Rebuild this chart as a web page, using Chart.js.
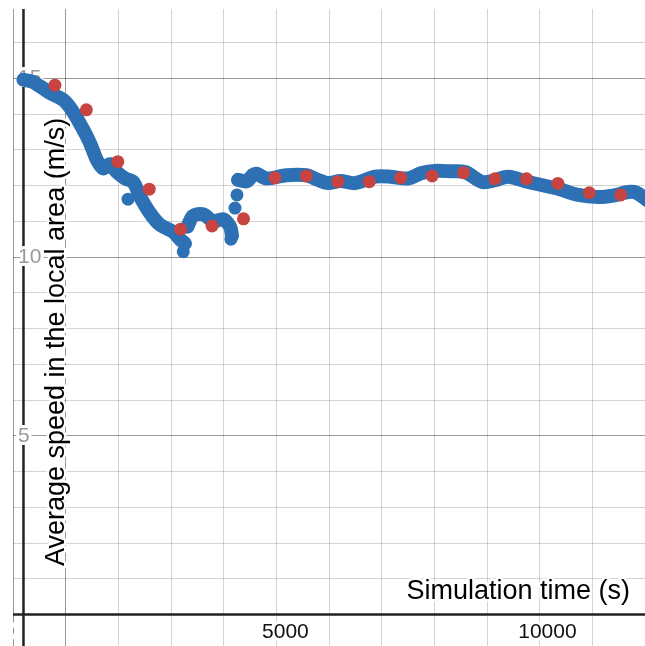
<!DOCTYPE html>
<html>
<head>
<meta charset="utf-8">
<script src="https://cdn.jsdelivr.net/npm/chart.js@4.4.1/dist/chart.umd.min.js"></script>
<style>
  html, body { margin: 0; padding: 0; background: #fff; }
  canvas { display: block; }
</style>
</head>
<body>
<canvas id="chart" width="645" height="646"></canvas>
<script>
// ---- data ----
// main blue trace (null speed = break in the trace)
const blueTime = [0, 181, 506, 755, 920, 1113, 1270, 1400, 1520, 1650, 1780, 1940, 2095, 2225, 2415, 2608, 2856, 2988, 3083,
  3100,
  3130, 3235, 3430, 3620, 3810, 3943, 3980,
  4040,
  4095, 4260, 4380, 4450, 4640, 5020, 5400, 5600, 5813, 6050, 6329, 6711, 7000, 7341, 7600, 7856, 8150, 8429, 8754,
  9000, 9251, 9633, 10206, 10588, 10970, 11250, 11543, 11700, 11900];
const blueSpeed = [14.96, 14.9, 14.59, 14.4, 14.12, 13.64, 13.19, 12.72, 12.48, 12.6, 12.38, 12.2, 12.1, 11.69, 11.23, 10.9, 10.71, 10.5, 10.38,
  null,
  10.85, 11.15, 11.2, 11.0, 11.06, 10.85, 10.6,
  null,
  12.16, 12.12, 12.3, 12.33, 12.2, 12.29, 12.29, 12.17, 12.07, 12.13, 12.07, 12.25, 12.25, 12.2, 12.35, 12.41, 12.4, 12.38, 12.1,
  12.15, 12.25, 12.1, 11.91, 11.74, 11.68, 11.72, 11.82, 11.8, 11.6];
// loose blue dots off the trace
const strayTime = [1996, 3050, 3960, 4037, 4075];
const straySpeed = [11.62, 10.15, 10.5, 11.37, 11.74];
// red sample points
const redTime = [600, 1200, 1800, 2400, 3000, 3600, 4200, 4800, 5400, 6000, 6600, 7200, 7800, 8400, 9000, 9600, 10200, 10800, 11400];
const redSpeed = [14.81, 14.12, 12.67, 11.9, 10.78, 10.87, 11.07, 12.22, 12.27, 12.11, 12.11, 12.22, 12.27, 12.36, 12.19, 12.19, 12.06, 11.8, 11.74];
// axis labels
const xLabelValues = [5000, 10000];
const yLabelValues = [5, 10, 15];
const xTitle = 'Simulation time (s)';
const yTitle = 'Average speed in the local area (m/s)';

const BLUE = '#2d70b3';
const RED = '#c74440';
const FONT = '"Liberation Sans", Arial, sans-serif';

const pts = (xs, ys) => xs.map((x, i) => ({ x, y: ys[i] }));

const gridColor = (ctx) => {
  const v = Math.round(ctx.tick.value);
  return v % 5 === 0 ? 'rgba(0,0,0,0.4)' : 'rgba(0,0,0,0.17)';
};

// scales take no room of their own, the plot fills the canvas
const noRoom = (s) => {
  if (s.isHorizontal()) s.height = 0; else s.width = 0;
  s.paddingLeft = s.paddingRight = s.paddingTop = s.paddingBottom = 0;
};

// axes, tick labels and titles drawn desmos style (labels with a white halo)
const axesPlugin = {
  id: 'axes',
  beforeDatasetsDraw(chart) {
    const { ctx, chartArea: a, scales: { x, y } } = chart;
    const x0 = x.getPixelForValue(0), y0 = y.getPixelForValue(0);
    ctx.save();
    ctx.beginPath();
    ctx.rect(a.left, a.top, a.right - a.left, a.bottom - a.top);
    ctx.clip();
    ctx.strokeStyle = '#222';
    ctx.lineWidth = 2.5;
    ctx.beginPath();
    ctx.moveTo(x0, a.top); ctx.lineTo(x0, a.bottom);
    ctx.moveTo(a.left, y0); ctx.lineTo(a.right, y0);
    ctx.stroke();

    ctx.font = '21px ' + FONT;
    ctx.lineJoin = 'round';
    ctx.lineWidth = 6;
    ctx.strokeStyle = '#fff';
    ctx.textBaseline = 'middle';
    // y labels
    ctx.textAlign = 'left';
    ctx.fillStyle = '#999';
    yLabelValues.forEach((v) => {
      const py = y.getPixelForValue(v);
      ctx.strokeText(String(v), x0 - 5.5, py);
      ctx.fillText(String(v), x0 - 5.5, py);
    });
    // x labels
    ctx.textAlign = 'center';
    ctx.fillStyle = '#111';
    xLabelValues.forEach((v) => {
      const px = x.getPixelForValue(v);
      ctx.strokeText(String(v), px, y0 + 18);
      ctx.fillText(String(v), px, y0 + 18);
    });
    ctx.textAlign = 'right';
    ctx.strokeText('0', x0 - 9, y0 + 18);
    ctx.fillText('0', x0 - 9, y0 + 18);

    // titles
    ctx.font = '27px ' + FONT;
    ctx.fillStyle = '#000';
    ctx.lineWidth = 5;
    ctx.textAlign = 'right';
    ctx.textBaseline = 'middle';
    ctx.strokeText(xTitle, 630, 592);
    ctx.fillText(xTitle, 630, 592);
    ctx.translate(57, 342);
    ctx.rotate(-Math.PI / 2);
    ctx.textAlign = 'center';
    ctx.strokeText(yTitle, 0, 0);
    ctx.fillText(yTitle, 0, 0);
    ctx.restore();
  },
};

new Chart(document.getElementById('chart'), {
  type: 'scatter',
  data: {
    datasets: [
      { label: 'trace', data: pts(blueTime, blueSpeed), showLine: true, spanGaps: false, borderColor: BLUE, borderWidth: 14,
        borderCapStyle: 'round', borderJoinStyle: 'round', tension: 0.3, pointRadius: 0, order: 3 },
      { label: 'stray', data: pts(strayTime, straySpeed), backgroundColor: BLUE, borderWidth: 0, pointRadius: 6.5, order: 2 },
      { label: 'samples', data: pts(redTime, redSpeed), backgroundColor: RED, borderWidth: 0, pointRadius: 6.5, order: 1 },
    ],
  },
  options: {
    responsive: false,
    animation: false,
    devicePixelRatio: 1,
    layout: { autoPadding: false, padding: { left: 13, top: 9, right: 0, bottom: 0 } },
    plugins: { legend: { display: false }, tooltip: { enabled: false } },
    scales: {
      x: {
        type: 'linear', min: -200, max: 11863, afterFit: noRoom,
        ticks: { display: false, stepSize: 1000, includeBounds: false, autoSkip: false, maxTicksLimit: 100 },
        grid: { color: gridColor, lineWidth: 1, drawTicks: false },
        border: { display: false },
      },
      y: {
        type: 'linear', min: -0.88, max: 16.94, afterFit: noRoom,
        ticks: { display: false, stepSize: 1, includeBounds: false, autoSkip: false, maxTicksLimit: 100 },
        grid: { color: gridColor, lineWidth: 1, drawTicks: false },
        border: { display: false },
      },
    },
  },
  plugins: [axesPlugin],
});
</script>
</body>
</html>
